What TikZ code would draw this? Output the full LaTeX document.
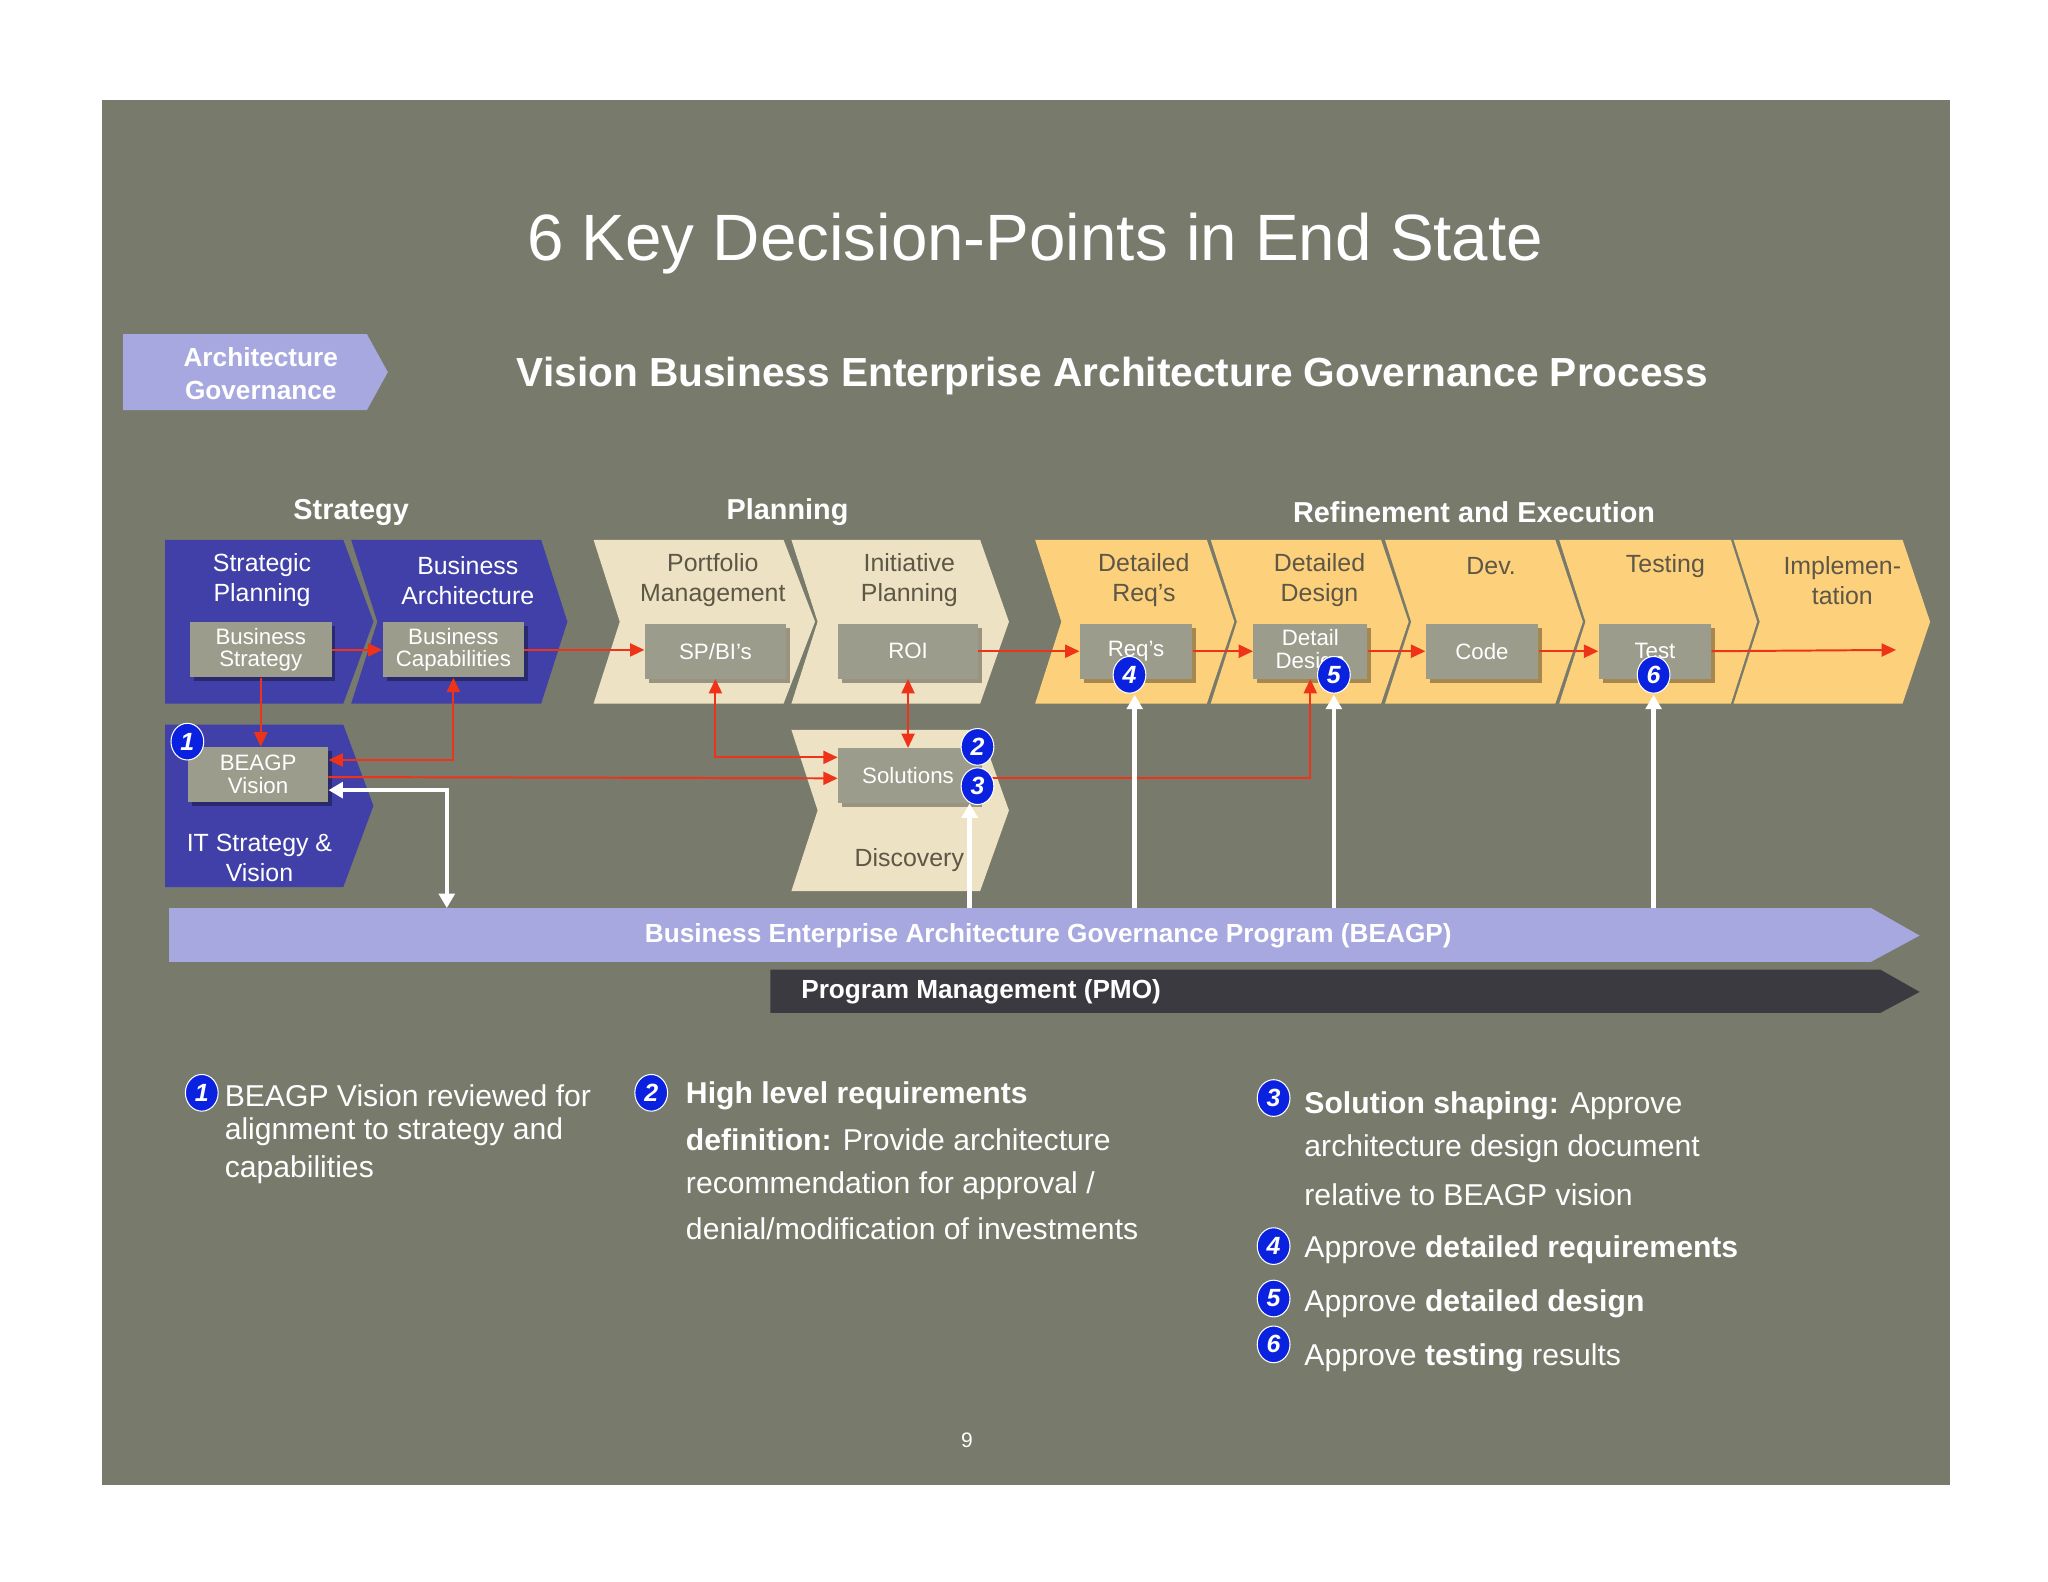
\documentclass[tikz,border=0pt]{standalone}
\usepackage{fontspec}
\setmainfont{Liberation Sans}
\usetikzlibrary{shapes.geometric,arrows.meta,shadows}
\definecolor{bg}{HTML}{787A6C}
\definecolor{cblue}{HTML}{4040A8}
\definecolor{ctan}{HTML}{EDE3C4}
\definecolor{cyel}{HTML}{FDD17B}
\definecolor{cbox}{HTML}{9C9C8C}
\definecolor{clav}{HTML}{A8A8E0}
\definecolor{cdark}{HTML}{3A3A40}
\definecolor{cred}{HTML}{EE3318}
\definecolor{cbadge}{HTML}{0A22E0}
\definecolor{ctxt}{HTML}{5E5646}
\newcommand{\chv}[7]{\fill[#7] (#1,#3) -- (#2,#3) -- (#5,{(#3+#4)/2}) -- (#2,#4) -- (#1,#4) -- (#6,{(#3+#4)/2}) -- cycle;}
\tikzset{
 box/.style={fill=cbox,text=white,align=center,inner sep=0pt,font=\fontsize{17}{17}\selectfont,
   drop shadow={shadow xshift=3pt,shadow yshift=-3pt,fill=black,opacity=0.35}},
 ctext/.style={align=center,font=\fontsize{19}{23}\selectfont},
 badge/.style={ellipse,fill=cbadge,draw=white,line width=0.8pt,text=white,inner sep=0pt,minimum width=25pt,minimum height=28pt,font=\fontsize{19}{19}\selectfont\bfseries\itshape},
 red/.style={draw=cred,line width=1.5pt},
 ra/.style={red,-{Triangle[length=11pt,width=10pt]}},
 rab/.style={red,{Triangle[length=11pt,width=10pt]}-{Triangle[length=11pt,width=10pt]}},
 wa/.style={draw=white,line width=3.5pt,-{Triangle[length=11pt,width=12pt]}},
 wab/.style={draw=white,line width=3.5pt,{Triangle[length=11pt,width=12pt]}-{Triangle[length=11pt,width=12pt]}},
 btxt/.style={anchor=west,text=white,font=\fontsize{23}{23}\selectfont},
 head/.style={text=white,font=\fontsize{22}{22}\selectfont\bfseries}
}
\begin{document}
\begin{tikzpicture}[x=1pt,y=-1pt]
\useasboundingbox (0,0) rectangle (1563,1207);
\fill[white] (0,0) rectangle (1563,1207);
\fill[bg] (78,76) rectangle (1488,1133);
\node[text=white,font=\fontsize{50}{50}\selectfont] (title) at (790,186) {6 Key Decision-Points in End State};
\chv{94}{280}{255}{313}{296}{94}{clav}
\node[text=white,align=center,font=\fontsize{20}{25}\selectfont\bfseries] (ag) at (199,285) {Architecture\\ Governance};
\node[text=white,font=\fontsize{31}{31}\selectfont\bfseries] (sub) at (849,287) {Vision Business Enterprise Architecture Governance Process};
\node[head] (h1) at (268,391) {Strategy};
\node[head] (h2) at (601,391) {Planning};
\node[head] (h3) at (1125,391) {Refinement and Execution};
% chevrons
\chv{126}{262}{412}{537}{285}{126}{cblue}
\chv{268}{413}{412}{537}{433}{288}{cblue}
\chv{453}{598}{412}{537}{622}{473}{ctan}
\chv{604}{748}{412}{537}{770}{624}{ctan}
\chv{790}{921}{412}{537}{942}{810}{cyel}
\chv{924}{1054}{412}{537}{1075}{944}{cyel}
\chv{1057}{1187}{412}{537}{1208}{1077}{cyel}
\chv{1190}{1321}{412}{537}{1341}{1210}{cyel}
\chv{1323}{1452}{412}{537}{1473}{1343}{cyel}
\chv{126}{262}{553}{677}{285}{126}{cblue}
\chv{604}{748}{557}{680}{770}{624}{ctan}
\node[ctext,text=white] (t1) at (200,443) {Strategic\\ Planning};
\node[ctext,text=white] (t2) at (357,443) {Business\\ Architecture};
\node[ctext,text=ctxt] (t3) at (544,443) {Portfolio\\ Management};
\node[ctext,text=ctxt] (t4) at (694,443) {Initiative\\ Planning};
\node[ctext,text=ctxt] (t5) at (873,443) {Detailed\\ Req’s};
\node[ctext,text=ctxt] (t6) at (1007,443) {Detailed\\ Design};
\node[ctext,text=ctxt] (t7) at (1138,432) {Dev.};
\node[ctext,text=ctxt] (t8) at (1271,432) {Testing};
\node[ctext,text=ctxt] (t9) at (1406,443) {Implemen-\\ tation};
\node[ctext,text=white] (t10) at (198,655) {IT Strategy \&\\ Vision};
\node[ctext,text=ctxt] (t11) at (694,656) {Discovery};
% boxes
\node[box,minimum width=108pt,minimum height=42pt] (bs) at (199,496) {Business\\ Strategy};
\node[box,minimum width=108pt,minimum height=42pt] (bc) at (346,496) {Business\\ Capabilities};
\node[box,minimum width=108pt,minimum height=42pt] (sp) at (546,497) {SP/BI’s};
\node[box,minimum width=107pt,minimum height=42pt] (roi) at (693,497) {ROI};
\node[box,minimum width=86pt,minimum height=42pt] (rq) at (867,497) {Req’s};
\node[box,minimum width=87pt,minimum height=42pt] (dd) at (1000,497) {Detail\\ Design};
\node[box,minimum width=86pt,minimum height=42pt] (code) at (1131,497) {Code};
\node[box,minimum width=86pt,minimum height=42pt] (test) at (1263,497) {Test};
\node[box,minimum width=107pt,minimum height=42pt] (bv) at (197,591) {BEAGP\\ Vision};
\node[box,minimum width=107pt,minimum height=42pt] (sol) at (693,592) {Solutions};
% bars
\fill[clav] (129,693) -- (1428,693) -- (1465,714) -- (1428,734) -- (129,734) -- cycle;
\node[text=white,font=\fontsize{20}{20}\selectfont\bfseries] (beagp) at (800,714) {Business Enterprise Architecture Governance Program (BEAGP)};
\fill[cdark] (588,740) -- (1435,740) -- (1465,757) -- (1435,773) -- (588,773) -- cycle;
\node[text=white,anchor=west,font=\fontsize{20}{20}\selectfont\bfseries] (pmo) at (608,757) {Program Management (PMO)};
\coordinate (endimp) at (1447,496);
% red connectors
\draw[ra] (bs.east) -- (bc.west);
\draw[ra] (bc.east) -- (sp.west |- bc.east);
\draw[ra] (roi.east) -- (rq.west);
\draw[ra] (rq.east) -- (dd.west);
\draw[ra] (dd.east) -- (code.west);
\draw[ra] (code.east) -- (test.west);
\draw[ra] (test.east) -- (endimp);
\draw[ra] (bs.south) -- (bv.north -| bs.south);
\draw[rab] ([yshift=11pt]bv.east) -| (bc.south);
\draw[rab] (sp.south) |- ([yshift=14pt]sol.west);
\draw[rab] (roi.south) -- (sol.north);
\draw[ra] ([yshift=-2pt]bv.east) -- ([yshift=-2pt]sol.west);
\draw[red,-{Triangle[length=11pt,width=10pt]}] ([yshift=-2pt]sol.east) -| (dd.south);
% white connectors
\coordinate (w1) at (341,693);
\coordinate (w2) at (740,693);
\coordinate (w3) at (866,693);
\coordinate (w4) at (1018,693);
\coordinate (w5) at (1262,693);
\draw[wab] ([yshift=-12pt]bv.east) -| (w1);
\draw[wa] (w2) -- (w2 |- sol.south);
\draw[wa] (w3) -- ([yshift=-12pt]w3 |- rq.south);
\draw[wa] (w4) -- ([yshift=-12pt]w4 |- dd.south);
\draw[wa] (w5) -- ([yshift=-12pt]w5 |- test.south);
% badges
\node[badge] (b1) at (143,566) {1};
\node[badge] (b2) at (746,570) {2};
\node[badge] (b3) at (746,600) {3};
\node[badge] (b4) at (862,515) {4};
\node[badge] (b5) at (1018,515) {5};
\node[badge] (b6) at (1262,515) {6};
% bottom text
\node[badge] (c1) at (154,834) {1};
\node[btxt] (l11) at (168,836) {BEAGP Vision reviewed for};
\node[btxt] (l12) at (168,864) {alignment to strategy and};
\node[btxt] (l13) at (168,893) {capabilities};
\node[badge] (c2) at (497,834) {2};
\node[btxt] (l21) at (520,836) {\textbf{High level requirements}};
\node[btxt] (l22) at (520,870) {\textbf{definition:} Provide architecture};
\node[btxt] (l23) at (520,905) {recommendation for approval /};
\node[btxt] (l24) at (520,938) {denial/modification of investments};
\node[badge] (c3) at (972,838) {3};
\node[btxt] (l31) at (992,844) {\textbf{Solution shaping:} Approve};
\node[btxt] (l32) at (992,877) {architecture design document};
\node[btxt] (l33) at (992,912) {relative to BEAGP vision};
\node[badge] (c4) at (972,951) {4};
\node[btxt] (l4) at (992,954) {Approve \textbf{detailed requirements}};
\node[badge] (c5) at (972,991) {5};
\node[btxt] (l5) at (992,995) {Approve \textbf{detailed design}};
\node[badge] (c6) at (972,1026) {6};
\node[btxt] (l6) at (992,1036) {Approve \textbf{testing} results};
\node[text=white,font=\fontsize{16}{16}\selectfont] (pg) at (738,1099) {9};
\end{tikzpicture}
\end{document}
